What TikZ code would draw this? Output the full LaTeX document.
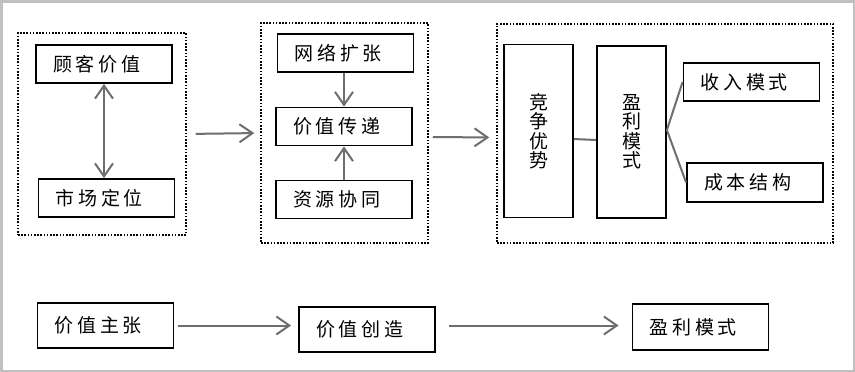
\documentclass[tikz,border=0pt]{standalone}
\usepackage{fontspec}
\usepackage{tikz}
\usetikzlibrary{arrows.meta}
\newfontfamily\cjk[LetterSpace=20]{Noto Sans CJK SC}
\newfontfamily\cjkv{Noto Sans CJK SC}
\definecolor{arrgray}{HTML}{6E6E6E}
\definecolor{framegray}{HTML}{C0C0C0}

\begin{document}
\begin{tikzpicture}[x=1pt,y=-1pt,
  blk/.style={draw, line width=1.8pt, minimum height=38pt, text width=102pt, inner xsep=17pt, inner ysep=0pt, align=left, font=\cjk\fontsize{19}{22}\selectfont},
  vblk/.style={draw, line width=1.8pt, minimum width=69pt, minimum height=173pt, inner sep=0pt, align=center, font=\cjkv\fontsize{19}{19.5}\selectfont},
  grp/.style={draw, line width=1.5pt, dash pattern=on 1.6pt off 1.6pt, inner sep=0pt},
  arr/.style={draw=arrgray, line width=2pt, -{Straight Barb[length=13pt,width=18pt]}},
  lnk/.style={draw=arrgray, line width=2pt}]
\useasboundingbox (0,0) rectangle (855,372);
\fill[framegray] (0,0) rectangle (855,372);
\fill[white] (2.5,2.5) rectangle (852.5,369.5);
% dotted groups
\node[grp, minimum width=168pt, minimum height=202pt] (g1) at (102,134){};
\node[grp, minimum width=167pt, minimum height=220pt] (g2) at (344.5,133){};
\node[grp, minimum width=336pt, minimum height=219pt] (g3) at (665,133.5){};
% first group
\node[blk] (gkjz) at (104,64){顾客价值};
\node[blk] (scdw) at (106.5,198){市场定位};
\draw[arr, {Straight Barb[length=13pt,width=18pt]}-{Straight Barb[length=13pt,width=18pt]}] (gkjz.south) -- (gkjz.south |- scdw.north);
% second group
\node[blk] (wlkz) at (345.5,53){网络扩张};
\node[blk] (jzcd) at (344,126.5){价值传递};
\node[blk] (zyxt) at (344,199.5){资源协同};
\draw[arr] (wlkz.south -| jzcd.north) -- (jzcd.north);
\draw[arr] (zyxt.north) -- (jzcd.south);
% third group
\node[vblk] (jzys) at (538.5,131){竞\\争\\优\\势};
\node[vblk, minimum height=172pt] (ylms) at (631.5,132){盈\\利\\模\\式};
\node[blk] (srms) at (751.5,82){收入模式};
\node[blk, minimum height=39pt] (cbjg) at (755,182.5){成本结构};
\draw[lnk] ([yshift=-8pt]jzys.east) -- ([yshift=-8pt]ylms.west);
\draw[lnk] ([yshift=2pt]ylms.east) -- (srms.west);
\draw[lnk] ([yshift=2pt]ylms.east) -- (cbjg.west);
% between groups
\draw[arr, shorten <=9pt, shorten >=6pt] (g1.east) -- (g2.west);
\draw[arr, shorten <=4pt, shorten >=7pt] ([yshift=-4pt]g2.east) -- ([yshift=-4pt]g3.west);
% bottom row
\node[blk, minimum height=45pt] (jzzz) at (105.5,325.5){价值主张};
\node[blk, minimum height=45pt] (jzcz) at (367,329.5){价值创造};
\node[blk, minimum height=46pt] (ylms2) at (700.5,327){盈利模式};
\draw[arr, shorten <=4pt, shorten >=7pt] (jzzz.east) -- (jzzz.east -| jzcz.west);
\draw[arr, shorten <=13pt, shorten >=13pt] (jzcz.east |- jzzz.east) -- (jzzz.east -| ylms2.west);
\end{tikzpicture}
\end{document}
